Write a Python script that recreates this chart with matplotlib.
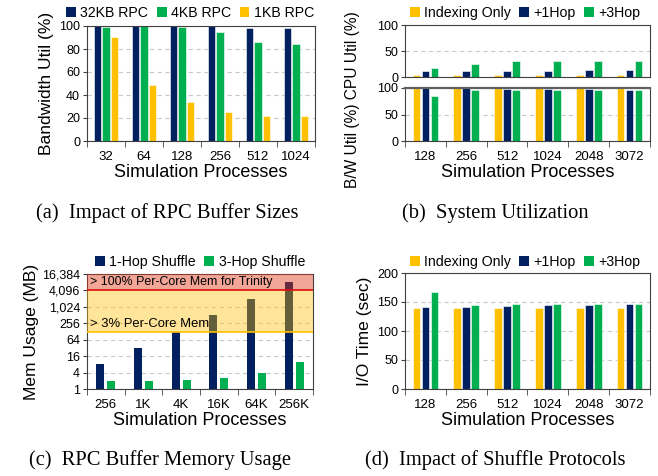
import matplotlib
matplotlib.use("Agg")
import matplotlib.pyplot as plt
from matplotlib.patches import Patch
from matplotlib.ticker import FixedLocator, NullFormatter
import numpy as np

plt.rcParams["font.family"] = ["Liberation Sans", "DejaVu Sans"]

NAVY = "#002060"
GREEN = "#00B050"
YELLOW = "#FFC000"
GRID = "#c8c8c8"
SPINE = "#404040"

# (a) Impact of RPC buffer sizes
procs_a = ["32", "64", "128", "256", "512", "1024"]
rpc_32kb = [100, 100, 100, 100, 98, 98]
rpc_4kb = [99, 100, 99, 95, 86, 84]
rpc_1kb = [90, 49, 34, 25, 22, 22]

# (b) System utilization
procs_b = ["128", "256", "512", "1024", "2048", "3072"]
cpu_index = [4, 4, 4, 4, 4, 4]
cpu_1hop = [12, 12, 12, 12, 13, 13]
cpu_3hop = [18, 25, 30, 30, 30, 30]
bw_index = [100, 100, 100, 100, 100, 100]
bw_1hop = [100, 100, 99, 99, 98, 97]
bw_3hop = [84, 97, 96, 96, 96, 96]

# (c) RPC buffer memory usage (MB)
procs_c = ["256", "1K", "4K", "16K", "64K", "256K"]
mem_1hop = [8, 32, 128, 512, 2048, 8192]
mem_3hop = [2, 2, 2.1, 2.5, 4, 10]
mem_ticks = [1, 4, 16, 64, 256, 1024, 4096, 16384]
mem_tick_labels = ["1", "4", "16", "64", "256", "1,024", "4,096", "16,384"]
trinity_mem = 4096
three_pct_mem = 123

# (d) Impact of shuffle protocols
procs_d = ["128", "256", "512", "1024", "2048", "3072"]
io_index = [140, 140, 140, 140, 140, 140]
io_1hop = [141, 142, 143, 144, 145, 146]
io_3hop = [167, 145, 147, 146, 147, 147]

W, H = 658, 476
fig = plt.figure(figsize=(W / 100, H / 100), dpi=100)


def box(left, top, right, bottom):
    return [left / W, 1 - bottom / H, (right - left) / W, (bottom - top) / H]


def style_axes(ax, n):
    ax.set_xlim(-0.5, n - 0.5)
    ax.xaxis.set_minor_locator(FixedLocator(np.arange(-0.5, n, 1.0)))
    ax.tick_params(axis="x", which="major", length=0, pad=7, labelsize=9.5)
    ax.tick_params(axis="x", which="minor", length=4, direction="out", color=SPINE)
    ax.tick_params(axis="y", which="major", length=3, labelsize=9, color=SPINE, pad=2)
    for s in ax.spines.values():
        s.set_color(SPINE)
        s.set_linewidth(0.8)
    ax.yaxis.grid(True, which="major", linestyle=(0, (4, 3)), color=GRID,
                  linewidth=0.8, zorder=0)
    ax.set_axisbelow(True)


def bars(ax, series, colors, labels):
    x = np.arange(len(labels))
    offsets = [-0.22, 0.0, 0.22]
    for vals, col, off in zip(series, colors, offsets):
        ax.bar(x + off, vals, width=0.19, color=col, edgecolor="white",
               linewidth=0.4, zorder=2)
    ax.set_xticks(x)
    ax.set_xticklabels(labels)
    style_axes(ax, len(labels))


def legend(names, colors, x, y):
    handles = [Patch(facecolor=c, edgecolor="none") for c in colors]
    fig.legend(handles, names, loc="center", bbox_to_anchor=(x / W, 1 - y / H),
               ncol=len(names), frameon=False, fontsize=10.2, handlelength=0.7,
               handleheight=0.7, handletextpad=0.3, columnspacing=0.6,
               borderpad=0)


# ---- (a)
ax_a = fig.add_axes(box(87, 26, 315, 141))
bars(ax_a, [rpc_32kb, rpc_4kb, rpc_1kb], [NAVY, GREEN, YELLOW], procs_a)
ax_a.set_ylim(0, 100)
ax_a.set_yticks([0, 20, 40, 60, 80, 100])
ax_a.set_ylabel("Bandwidth Util (%)", fontsize=12.5, labelpad=4)
ax_a.set_xlabel("Simulation Processes", fontsize=13, labelpad=1)
legend(["32KB RPC", "4KB RPC", "1KB RPC"], [NAVY, GREEN, YELLOW], 190, 13)

# ---- (b)
ax_b1 = fig.add_axes(box(405, 25, 650, 77))
bars(ax_b1, [cpu_index, cpu_1hop, cpu_3hop], [YELLOW, NAVY, GREEN], procs_b)
ax_b1.set_ylim(0, 100)
ax_b1.set_yticks([0, 50, 100])
ax_b1.set_xticklabels([])
ax_b1.tick_params(axis="x", which="minor", length=0)
ax_b2 = fig.add_axes(box(405, 88, 650, 141))
bars(ax_b2, [bw_index, bw_1hop, bw_3hop], [YELLOW, NAVY, GREEN], procs_b)
ax_b2.set_ylim(0, 100)
ax_b2.set_yticks([0, 50, 100])
ax_b2.spines["top"].set_linewidth(1.6)
ax_b2.spines["top"].set_color("#606060")
ax_b2.set_xlabel("Simulation Processes", fontsize=13, labelpad=1)
fig.text(353 / W, 1 - 100 / H, "B/W Util (%) CPU Util (%)", rotation=90,
         ha="center", va="center", fontsize=11.2)
legend(["Indexing Only", "+1Hop", "+3Hop"], [YELLOW, NAVY, GREEN], 525, 13)

# ---- (c)
ax_c = fig.add_axes(box(87, 274, 313, 389))
x = np.arange(len(procs_c))
ax_c.bar(x - 0.146, mem_1hop, width=0.21, color=NAVY, zorder=2)
ax_c.bar(x + 0.146, mem_3hop, width=0.21, color=GREEN, zorder=2)
ax_c.set_yscale("log", base=2)
ax_c.set_ylim(1, 16384)
ax_c.set_yticks(mem_ticks)
ax_c.set_yticklabels(mem_tick_labels)
ax_c.yaxis.set_minor_formatter(NullFormatter())
ax_c.tick_params(axis="y", which="minor", length=0)
ax_c.set_xticks(x)
ax_c.set_xticklabels(procs_c)
style_axes(ax_c, len(procs_c))
ax_c.axhspan(three_pct_mem, trinity_mem, color=YELLOW, alpha=0.4, lw=0, zorder=3)
ax_c.axhspan(trinity_mem, 16384, color="#E03A1A", alpha=0.45, lw=0, zorder=3)
ax_c.axhline(trinity_mem, color="#E01010", lw=1.2, zorder=4)
ax_c.axhline(three_pct_mem, color=YELLOW, lw=1.2, zorder=4)
ax_c.text(-0.42, 8300, "> 100% Per-Core Mem for Trinity", fontsize=8.9,
          va="center", ha="left", zorder=5)
ax_c.text(-0.42, 250, "> 3% Per-Core Mem", fontsize=9.4,
          va="center", ha="left", zorder=5)
ax_c.set_ylabel("Mem Usage (MB)", fontsize=12.5, labelpad=2)
ax_c.set_xlabel("Simulation Processes", fontsize=13, labelpad=1)
legend(["1-Hop Shuffle", "3-Hop Shuffle"], [NAVY, GREEN], 200, 262)

# ---- (d)
ax_d = fig.add_axes(box(405, 273, 650, 389))
bars(ax_d, [io_index, io_1hop, io_3hop], [YELLOW, NAVY, GREEN], procs_d)
ax_d.set_ylim(0, 200)
ax_d.set_yticks([0, 50, 100, 150, 200])
ax_d.set_ylabel("I/O Time (sec)", fontsize=12.5, labelpad=4)
ax_d.set_xlabel("Simulation Processes", fontsize=13, labelpad=1)
legend(["Indexing Only", "+1Hop", "+3Hop"], [YELLOW, NAVY, GREEN], 525, 262)

# captions
cap = dict(ha="center", va="center", fontsize=14.8,
           family=["Liberation Serif", "DejaVu Serif"])
fig.text(167 / W, 1 - 213 / H, "(a)  Impact of RPC Buffer Sizes", **cap)
fig.text(495 / W, 1 - 213 / H, "(b)  System Utilization", **cap)
fig.text(160 / W, 1 - 460 / H, "(c)  RPC Buffer Memory Usage", **cap)
fig.text(495 / W, 1 - 460 / H, "(d)  Impact of Shuffle Protocols", **cap)

fig.savefig("out.png", dpi=100)
